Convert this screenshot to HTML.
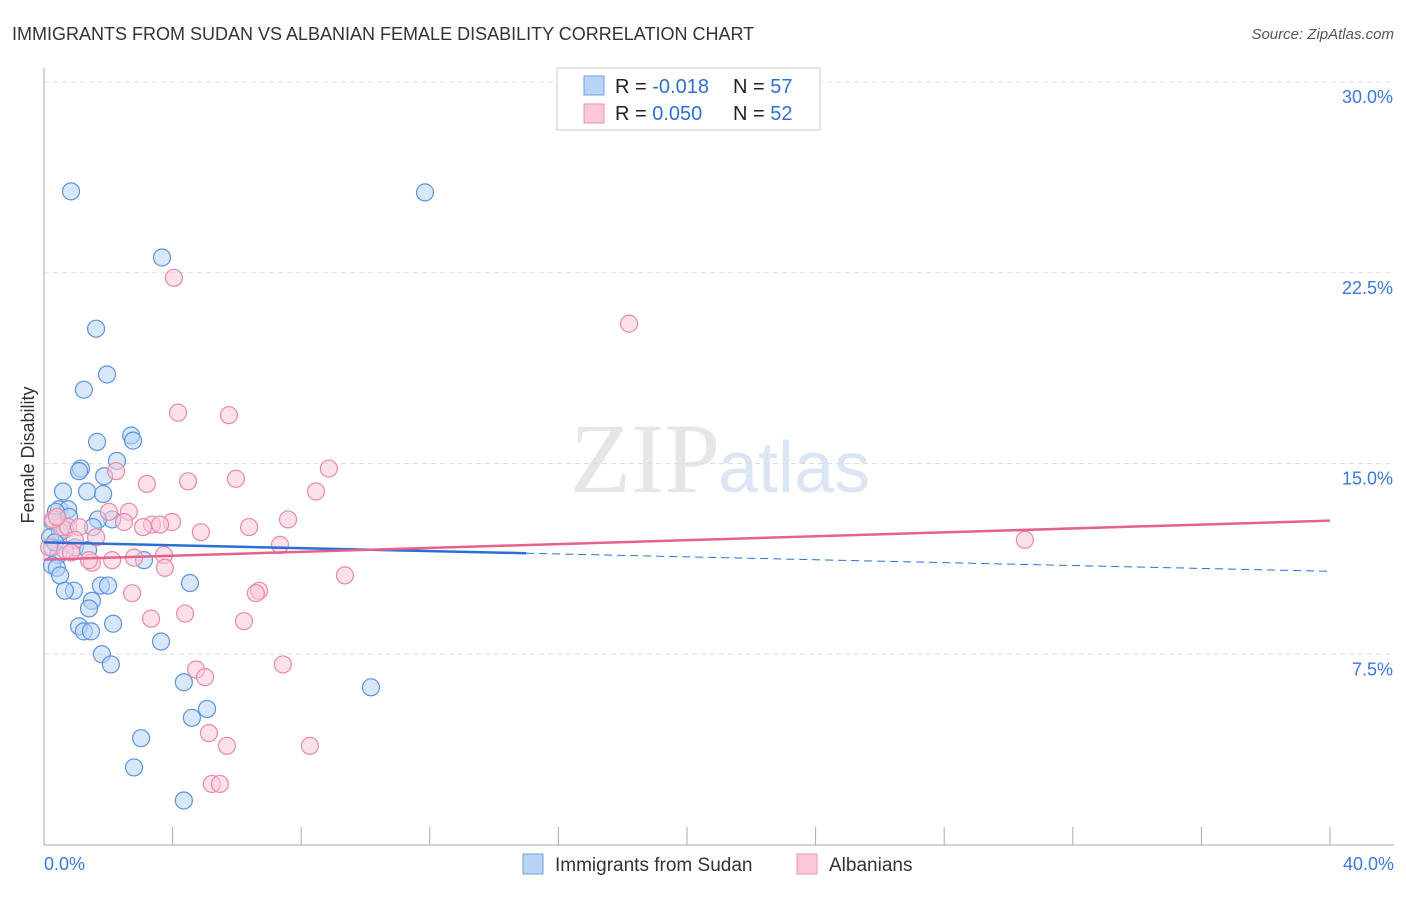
<!DOCTYPE html>
<html><head><meta charset="utf-8"><style>
body{margin:0;background:#fff;font-family:"Liberation Sans",sans-serif;}
#wrap{position:relative;width:1406px;height:892px;}
</style></head><body>
<div id="wrap">
<svg id="svg" width="1406" height="892" xmlns="http://www.w3.org/2000/svg">
<text x="12" y="40" font-size="18" fill="#333">IMMIGRANTS FROM SUDAN VS ALBANIAN FEMALE DISABILITY CORRELATION CHART</text>
<text x="1394" y="39" font-size="15" fill="#555" font-style="italic" text-anchor="end">Source: ZipAtlas.com</text>
<text x="34" y="455" font-size="18" fill="#333" transform="rotate(-90 34 455)" text-anchor="middle">Female Disability</text>
<text x="720" y="492" font-size="100" fill="#e6e6e6" text-anchor="end" font-family="Liberation Serif,serif">ZIP</text>
<text x="718" y="492" font-size="72" fill="#dbe6f5">atlas</text>
<g id="grid"></g><g id="axes"></g><g id="pts"></g><g id="trend"></g>
<g>
<rect x="557" y="68" width="263" height="62" fill="#fff" stroke="#ccc"/>
<rect x="584" y="76" width="20" height="19" fill="#b8d3f5" stroke="#6fa1e3"/>
<rect x="584" y="104" width="20" height="19" fill="#fcc8d8" stroke="#ec90ad"/>
<text x="615" y="93" font-size="20" fill="#222">R = <tspan fill="#2f6fd0">-0.018</tspan></text>
<text x="733" y="93" font-size="20" fill="#222">N = <tspan fill="#2f6fd0">57</tspan></text>
<text x="615" y="120" font-size="20" fill="#222">R = <tspan fill="#2f6fd0"> 0.050</tspan></text>
<text x="733" y="120" font-size="20" fill="#222">N = <tspan fill="#2f6fd0">52</tspan></text>
</g>
<g>
<rect x="523" y="854" width="20" height="20" fill="#b8d3f5" stroke="#6fa1e3"/>
<text x="555" y="871" font-size="19" fill="#333">Immigrants from Sudan</text>
<rect x="797" y="854" width="20" height="20" fill="#fcc8d8" stroke="#ec90ad"/>
<text x="829" y="871" font-size="19" fill="#333">Albanians</text>
</g>
</svg></div>
<script>
const yTicks=[7.5,15,22.5,30];
const yTickLabels=["7.5%","15.0%","22.5%","30.0%"];
const xTickLabels=["0.0%","40.0%"];
const sudanX=[0.84,11.85,3.67,1.62,1.96,1.24,2.71,2.77,1.65,2.27,1.15,1.09,1.87,0.59,1.34,1.84,0.47,0.75,0.37,0.78,2.12,1.68,0.28,1.52,0.65,0.50,0.19,0.25,0.96,1.37,0.44,3.11,0.25,0.40,0.50,0.93,0.65,1.77,1.99,4.54,1.49,1.40,2.15,1.09,1.24,1.46,3.64,1.80,2.08,4.35,5.07,4.60,10.17,3.02,2.80,4.35,0.34];
const sudanY=[25.7,25.66,23.1,20.3,18.5,17.9,16.1,15.9,15.85,15.1,14.8,14.7,14.5,13.9,13.9,13.8,13.2,13.2,13.1,12.9,12.8,12.8,12.7,12.5,12.4,12.3,12.1,11.7,11.7,11.6,11.4,11.2,11.0,10.9,10.6,10.0,10.0,10.2,10.2,10.3,9.6,9.3,8.7,8.6,8.4,8.4,8.0,7.5,7.1,6.4,5.35,5.0,6.2,4.2,3.05,1.75,11.9];
const albX=[4.04,18.2,4.17,5.75,8.86,2.24,5.97,3.2,4.48,8.46,2.64,2.02,7.59,3.98,2.49,3.36,3.61,3.08,6.38,4.88,0.53,0.28,0.75,1.09,0.96,1.62,0.65,7.34,30.51,2.8,2.12,3.73,1.49,1.40,3.76,0.84,9.36,6.69,6.59,2.74,4.39,3.33,6.22,7.43,4.73,5.01,8.27,5.13,5.69,5.22,5.47,0.16,0.40];
const albY=[22.3,20.5,17.0,16.9,14.8,14.7,14.4,14.2,14.3,13.9,13.1,13.1,12.8,12.7,12.7,12.6,12.6,12.5,12.5,12.3,12.5,12.8,12.5,12.5,12.0,12.1,11.6,11.8,12.0,11.3,11.2,11.4,11.1,11.2,10.9,11.5,10.6,10.0,9.9,9.9,9.1,8.9,8.8,7.1,6.9,6.6,3.9,4.4,3.9,2.4,2.4,11.7,12.9];
const trendSudan=[11.9,-0.0285]; // intercept, slope
const trendAlb=[11.22,0.0383];
const X0=44,X1=1330,Y0=845,Y1=82;
const xs=v=>X0+(v/40)*(X1-X0), ys=v=>Y0-(v/30)*(Y0-Y1);
const NS="http://www.w3.org/2000/svg";
function mk(tag,attrs,parent){const e=document.createElementNS(NS,tag);for(const k in attrs)e.setAttribute(k,attrs[k]);document.getElementById(parent).appendChild(e);return e;}
yTicks.forEach((t,i)=>{
 const l=mk('line',{x1:X0,x2:1394,y1:ys(t),y2:ys(t),stroke:'#ddd','stroke-dasharray':'5,4'},'grid');
 
 
 const tx=mk('text',{x:1393,y:ys(t)+21,'font-size':18,fill:'#3b78d8','text-anchor':'end'},'grid');
 tx.textContent=yTickLabels[i];
 
 
});
const ax=mk('line',{x1:X0,x2:X0,y1:68,y2:Y0,stroke:'#aaa'},'axes');


const bx=mk('line',{x1:X0,x2:1394,y1:Y0,y2:Y0,stroke:'#aaa'},'axes');


for(let i=0;i<=10;i++){
 const t=mk('line',{x1:xs(i*4),x2:xs(i*4),y1:Y0,y2:Y0-18,stroke:'#aaa'},'axes');
 
 
}
[[0,'start',44],[40,'end',1394]].forEach((d,i)=>{
 const t=mk('text',{x:d[2],y:870,'font-size':18,fill:'#3b78d8','text-anchor':d[1]},'axes');
 t.textContent=xTickLabels[i];
 
 
});
function pts(X,Y,fill,stroke,name){X.forEach((x,i)=>{
 const c=mk('circle',{cx:xs(x),cy:ys(Y[i]),r:8.5,fill:fill,'fill-opacity':0.55,stroke:stroke,'stroke-width':1.2},'pts');
 
 
});}
pts(sudanX,sudanY,'#b8d3f5','#5d93e0','point-sudan');
pts(albX,albY,'#fcc8d8','#ea8aa8','point-albanians');
const f=(tr,x)=>tr[0]+tr[1]*x;
const ts=mk('line',{x1:xs(0),y1:ys(f(trendSudan,0)),x2:xs(15),y2:ys(f(trendSudan,15)),stroke:'#2b6fd6','stroke-width':2.5},'trend');


const td=mk('line',{x1:xs(15),y1:ys(f(trendSudan,15)),x2:xs(40),y2:ys(f(trendSudan,40)),stroke:'#2b6fd6','stroke-width':1,'stroke-dasharray':'8,5'},'trend');


const ta=mk('line',{x1:xs(0),y1:ys(f(trendAlb,0)),x2:xs(40),y2:ys(f(trendAlb,40)),stroke:'#e4628e','stroke-width':2.5},'trend');


</script>
</body></html>
